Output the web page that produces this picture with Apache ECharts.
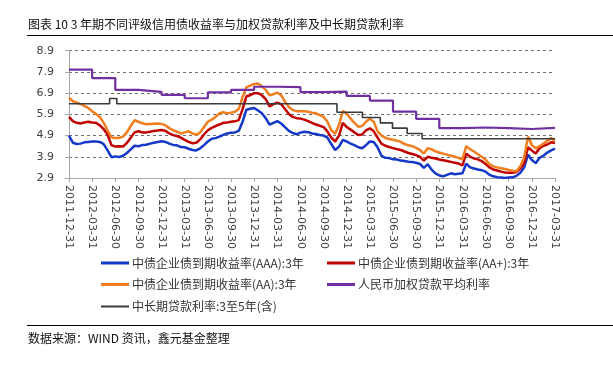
<!DOCTYPE html>
<html>
<head>
<meta charset="utf-8">
<script src="https://cdn.jsdelivr.net/npm/echarts@6/dist/echarts.min.js"></script>
<style>
html,body{margin:0;padding:0;background:#fff;}
#c{width:613px;height:367px;}
</style>
</head>
<body>
<div id="c"></div>
<script>
// ---- tick labels (quarter ends) ----
const quarterLabels = ['2011-12-31','2012-03-31','2012-06-30','2012-09-30','2012-12-31','2013-03-31','2013-06-30','2013-09-30','2013-12-31','2014-03-31','2014-06-30','2014-09-30','2014-12-31','2015-03-31','2015-06-30','2015-09-30','2015-12-31','2016-03-31','2016-06-30','2016-09-30','2016-12-31','2017-03-31'];
const yTicksMin = 2.9, yTicksMax = 8.9;

// ---- series names ----
const names = ['中债企业债到期收益率(AAA):3年','中债企业债到期收益率(AA+):3年','中债企业债到期收益率(AA):3年','人民币加权贷款平均利率','中长期贷款利率:3至5年(含)'];

// ---- bond yields, semi-monthly from 2011-12-31 ----
const yieldStepMonths = 0.5;
const aaa = [4.90,4.56,4.50,4.52,4.58,4.60,4.62,4.62,4.60,4.50,4.20,3.88,3.92,3.89,3.95,4.08,4.25,4.42,4.40,4.45,4.47,4.52,4.56,4.60,4.63,4.60,4.52,4.46,4.44,4.36,4.35,4.28,4.22,4.20,4.30,4.45,4.62,4.75,4.78,4.85,4.93,5.00,5.03,5.05,5.12,5.55,6.12,6.16,6.20,6.08,5.95,5.72,5.42,5.50,5.58,5.47,5.30,5.12,5.02,4.96,5.04,5.08,5.06,5.00,4.97,4.93,4.90,4.80,4.50,4.22,4.38,4.70,4.62,4.52,4.45,4.35,4.30,4.45,4.62,4.60,4.35,3.95,3.85,3.84,3.78,3.77,3.72,3.70,3.67,3.65,3.62,3.56,3.38,3.55,3.30,3.12,3.02,2.98,3.05,3.12,3.08,3.10,3.12,3.58,3.40,3.35,3.30,3.27,3.20,3.05,2.98,2.94,2.92,2.90,2.92,2.93,3.00,3.15,3.40,4.00,3.75,3.60,3.85,3.95,4.10,4.20,4.28];
const aaPlus = [5.78,5.58,5.50,5.47,5.52,5.55,5.52,5.50,5.38,5.20,4.95,4.45,4.38,4.40,4.38,4.55,4.80,5.05,5.10,5.05,5.05,5.08,5.12,5.14,5.16,5.12,5.00,4.92,4.88,4.80,4.70,4.60,4.54,4.56,4.72,4.95,5.15,5.26,5.35,5.42,5.50,5.52,5.55,5.57,5.63,6.15,6.75,6.80,6.90,6.90,6.80,6.62,6.28,6.38,6.45,6.38,6.15,5.92,5.78,5.72,5.70,5.65,5.58,5.50,5.42,5.36,5.30,5.10,4.80,4.62,4.90,5.50,5.30,5.18,5.05,4.93,4.95,5.15,5.24,5.10,4.80,4.52,4.42,4.36,4.31,4.26,4.22,4.15,4.08,4.03,3.98,3.90,3.72,3.90,3.85,3.82,3.77,3.74,3.70,3.66,3.62,3.58,3.50,4.05,3.90,3.82,3.78,3.70,3.56,3.40,3.30,3.25,3.20,3.16,3.15,3.15,3.18,3.35,3.60,4.35,4.20,4.05,4.30,4.42,4.48,4.58,4.55];
const aa = [6.68,6.52,6.45,6.38,6.30,6.20,6.05,5.92,5.78,5.50,5.15,4.82,4.78,4.80,4.85,5.05,5.35,5.62,5.55,5.48,5.43,5.45,5.46,5.47,5.45,5.38,5.25,5.15,5.08,5.00,5.05,5.10,5.00,4.93,5.05,5.30,5.55,5.65,5.78,5.95,6.00,5.95,5.98,6.02,6.15,6.70,7.18,7.25,7.33,7.35,7.22,7.05,6.80,6.85,6.92,6.80,6.50,6.25,6.10,6.05,6.05,6.05,6.02,5.98,5.95,5.86,5.78,5.55,5.15,4.98,5.40,6.05,5.94,5.70,5.50,5.32,5.35,5.55,5.70,5.55,5.10,4.90,4.80,4.74,4.70,4.66,4.60,4.50,4.44,4.40,4.32,4.22,4.05,4.30,4.25,4.16,4.10,4.05,4.00,3.95,3.90,3.85,3.78,4.40,4.25,4.15,4.02,3.90,3.77,3.55,3.45,3.40,3.36,3.32,3.28,3.24,3.22,3.45,3.85,4.85,4.45,4.30,4.40,4.52,4.65,4.78,4.65];

// ---- weighted average lending rate, quarterly (2011-12-31 .. 2016-12-31) ----
const weightedRate = [8.01,7.61,7.05,6.96,6.82,6.66,6.94,7.05,7.20,7.18,6.95,6.97,6.77,6.55,6.03,5.69,5.25,5.28,5.25,5.21,5.26];

// ---- 3-5 year benchmark loan rate, change dates ----
const loanDates = ['2011-12-31','2012-06-08','2012-07-06','2014-11-22','2015-03-01','2015-05-11','2015-06-28','2015-08-26','2015-10-24','2017-03-31'];
const loanRates = [6.40,6.65,6.40,6.00,5.75,5.50,5.25,5.00,4.75,4.75];

// ---- helpers ----
function monthIndex(s){
  const [Y,M,D] = s.split('-').map(Number);
  const dim = new Date(Y, M, 0).getDate();
  return (Y-2012)*12 + (M-1) + D/dim;
}
const endMonth = monthIndex(quarterLabels[quarterLabels.length-1]);
const toSemi = arr => arr.map((v,i)=>[i*yieldStepMonths, v]);
const wData = weightedRate.map((v,i)=>[monthIndex(quarterLabels[i]), v]);
wData.push([endMonth, weightedRate[weightedRate.length-1]]);
const lData = loanDates.map((d,i)=>[monthIndex(d), loanRates[i]]);

const colors = ['#1438C8','#C00000','#F07D1E','#7030A0','#3A3A3A'];
const widths = [2.5,2.5,2.5,2.2,1.6];
const datas = [toSemi(aaa), toSemi(aaPlus), toSemi(aa), wData, lData];

const series = names.map((n,i)=>({
  name:n, type:'line', data:datas[i], showSymbol:false, symbol:'none',
  step: i>=3 ? 'end' : false,
  lineStyle:{color:colors[i], width:widths[i]}, itemStyle:{color:colors[i]},
  animation:false
}));

const legendPos = [[101,257],[327,257],[101,278.5],[327,278.5],[101,300.5]];
const legends = names.map((n,i)=>({
  data:[n], left:legendPos[i][0], top:legendPos[i][1], padding:0,
  icon:'rect', itemWidth:28, itemHeight: i===4 ? 2 : 3, itemGap:0,
  textStyle:{fontSize:12, color:'#333', fontFamily:'Noto Sans CJK SC', padding:[0,0,0,-2]},
  selectedMode:false
}));

const chart = echarts.init(document.getElementById('c'), null, {renderer:'canvas'});
chart.setOption({
  animation:false,
  backgroundColor:'#fff',
  title:[{
    text:'图表 10 3 年期不同评级信用债收益率与加权贷款利率及中长期贷款利率',
    left:28, top:18, padding:0,
    textStyle:{fontSize:12, fontWeight:'normal', color:'#111', fontFamily:'Noto Sans CJK SC'}
  },{
    text:'数据来源：WIND 资讯，鑫元基金整理',
    left:28, top:332, padding:0,
    textStyle:{fontSize:12, fontWeight:'normal', color:'#111', fontFamily:'Noto Sans CJK SC'}
  }],
  graphic:[
    {type:'line', shape:{x1:27,y1:35.5,x2:613,y2:35.5}, style:{stroke:'#000', lineWidth:1.2}},
    {type:'line', shape:{x1:27,y1:325.5,x2:613,y2:325.5}, style:{stroke:'#000', lineWidth:1.2}}
  ],
  legend: legends,
  grid:{left:69, right:58, top:50.7, bottom:189},
  xAxis:{
    type:'value', min:0, max:63, interval:3,
    axisLine:{show:true, lineStyle:{color:'#A6A6A6'}},
    axisTick:{show:true, length:4, lineStyle:{color:'#A6A6A6'}},
    splitLine:{show:false},
    axisLabel:{
      rotate:-90, margin:7, fontSize:11, color:'#404040', fontFamily:'DejaVu Sans',
      formatter:v=>quarterLabels[Math.round(v/3)]||''
    }
  },
  yAxis:{
    type:'value', min:yTicksMin, max:yTicksMax, interval:1,
    axisLine:{show:true, lineStyle:{color:'#A6A6A6'}},
    axisTick:{show:true, length:4, lineStyle:{color:'#A6A6A6'}},
    splitLine:{show:true, lineStyle:{color:'#6e6e6e', type:[3,3], width:1}},
    axisLabel:{margin:15, fontSize:11, color:'#404040', fontFamily:'DejaVu Sans', formatter:v=>v.toFixed(1)}
  },
  series: series
});
</script>
</body>
</html>
